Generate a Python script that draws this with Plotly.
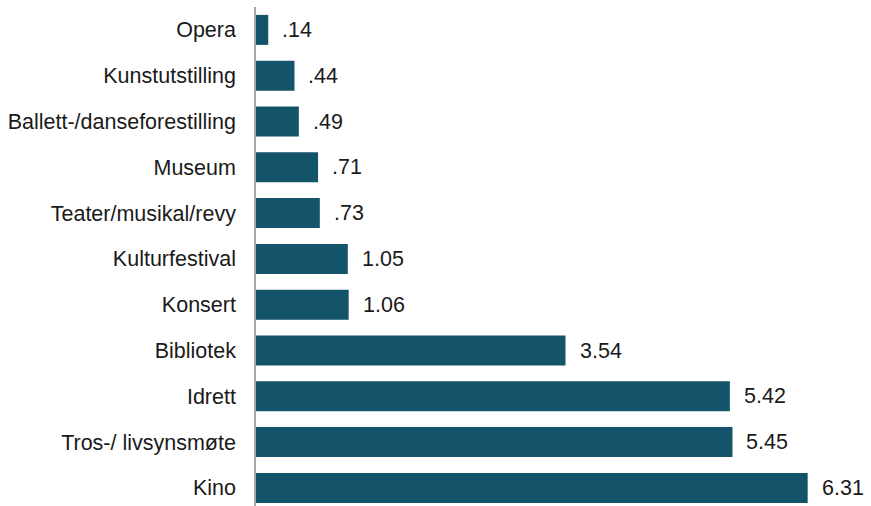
import plotly.graph_objects as go

categories = ["Kino", "Tros-/ livsynsmøte", "Idrett", "Bibliotek", "Konsert",
              "Kulturfestival", "Teater/musikal/revy", "Museum",
              "Ballett-/danseforestilling", "Kunstutstilling", "Opera"]
values = [6.31, 5.45, 5.42, 3.54, 1.06, 1.05, 0.73, 0.71, 0.49, 0.44, 0.14]
labels = [("%.2f" % v).lstrip("0") if v < 1 else "%.2f" % v for v in values]

BAR = "#14546a"

fig = go.Figure()
fig.add_trace(go.Bar(
    x=values, y=categories, orientation="h",
    marker=dict(color=BAR, line=dict(width=0)),
    width=0.655, hoverinfo="skip",
))
for c, v, t in zip(categories, values, labels):
    fig.add_annotation(x=v, y=c, text=t, showarrow=False, xanchor="left",
                       xshift=12, font=dict(size=21.5, color="#1a1a1a",
                                            family="Liberation Sans, Arial"))

fig.update_layout(
    width=871, height=506,
    margin=dict(l=256, r=3, t=7, b=0),
    plot_bgcolor="white", paper_bgcolor="white",
    showlegend=False,
    font=dict(family="Liberation Sans, Arial", size=21.5, color="#1a1a1a"),
)
fig.update_xaxes(range=[0, 7], visible=False, showgrid=False, zeroline=False,
                 automargin=False)
fig.update_yaxes(
    type="category", categoryorder="array", categoryarray=categories,
    range=[-0.395, 10.5], showgrid=False, zeroline=False,
    showline=True, linecolor="#a6a6a6", linewidth=1.5,
    ticks="", ticklabelstandoff=14, automargin=False,
    tickfont=dict(size=21.5, color="#1a1a1a"),
)
fig.write_html(
    "out.html",
    config={"displayModeBar": False},
    post_script="document.body.style.margin='0';document.body.style.overflow='hidden';",
)
